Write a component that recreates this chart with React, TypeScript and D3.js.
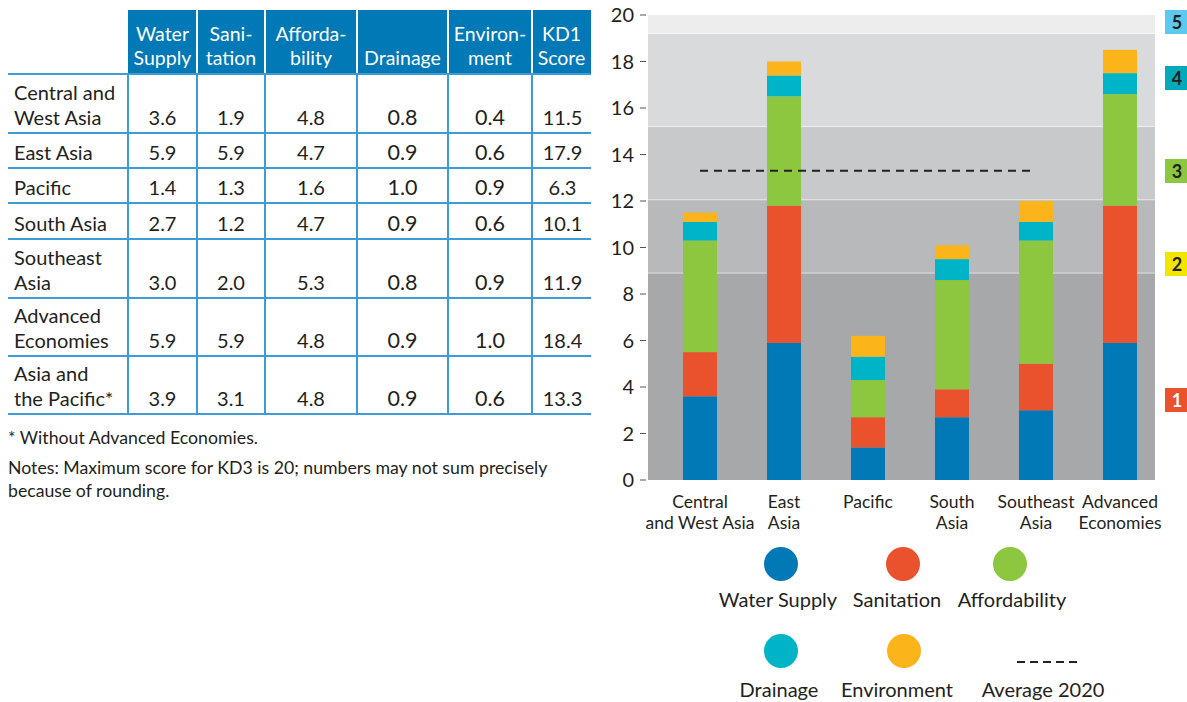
import React from "react";
import * as d3 from "d3";

const tableRows = [
  ["Central and", "West Asia"],
  ["East Asia"],
  ["Pacific"],
  ["South Asia"],
  ["Southeast", "Asia"],
  ["Advanced", "Economies"],
  ["Asia and", "the Pacific*"],
];
const regions = ["Central and West Asia", "East Asia", "Pacific", "South Asia", "Southeast Asia", "Advanced Economies"];
const regionLabelLines = [
  ["Central", "and West Asia"],
  ["East", "Asia"],
  ["Pacific"],
  ["South", "Asia"],
  ["Southeast", "Asia"],
  ["Advanced", "Economies"],
];
const waterSupply = [3.6, 5.9, 1.4, 2.7, 3.0, 5.9, 3.9];
const sanitation = [1.9, 5.9, 1.3, 1.2, 2.0, 5.9, 3.1];
const affordability = [4.8, 4.7, 1.6, 4.7, 5.3, 4.8, 4.8];
const drainage = [0.8, 0.9, 1.0, 0.9, 0.8, 0.9, 0.9];
const environment = [0.4, 0.6, 0.9, 0.6, 0.9, 1.0, 0.6];
const kd1Score = [11.5, 17.9, 6.3, 10.1, 11.9, 18.4, 13.3];
const headerLabels = [
  ["Water", "Supply"],
  ["Sani-", "tation"],
  ["Afforda-", "bility"],
  ["Drainage"],
  ["Environ-", "ment"],
  ["KD1", "Score"],
];
const seriesNames = ["Water Supply", "Sanitation", "Affordability", "Drainage", "Environment"];
const seriesColors = ["#0079b6", "#e9522c", "#8dc63f", "#00b4c8", "#fbb41a"];
const average2020 = 13.3;
const bandLimits = [0, 8.9, 12.05, 15.2, 19.2, 20];
const bandColors = ["#a7a8aa", "#b8b9bb", "#c8c9cb", "#d9dadc", "#ededed"];
const levelLabels = ["1", "2", "3", "4", "5"];
const levelColors = ["#e9522c", "#f2e600", "#8dc63f", "#00aab9", "#5ccaef"];
const levelBoxTop = [388, 252, 159, 66, 10];
const yTicks = [0, 2, 4, 6, 8, 10, 12, 14, 16, 18, 20];
const footnote = "* Without Advanced Economies.";
const notes = ["Notes: Maximum score for KD3 is 20; numbers may not sum precisely", "because of rounding."];

const FONT = "Lato, 'Open Sans', sans-serif";
const TXT = "#231f20";

export default function App() {
  // table geometry
  const colX = [128, 197, 265, 357, 448, 532, 591];
  const rowY = [74, 133, 168, 203, 239, 298, 356, 414];
  const lineBlue = "#3d9bd6";
  const headBlue = "#0079b6";
  const tableValues = [waterSupply, sanitation, affordability, drainage, environment, kd1Score];

  // chart geometry
  const y = d3.scaleLinear().domain([0, 20]).range([480, 15]);
  const x = d3.scaleBand().domain(regions).range([658, 1162]).paddingInner(0.595).paddingOuter(0.2975);
  const plotL = 648, plotR = 1155;
  const chartData = regions.map((r, i) => ({
    region: r,
    s0: waterSupply[i], s1: sanitation[i], s2: affordability[i], s3: drainage[i], s4: environment[i],
  }));
  const stack = d3.stack<any>().keys(["s0", "s1", "s2", "s3", "s4"]);
  const stacked = stack(chartData);
  const cx = (r: string) => (x(r) as number) + x.bandwidth() / 2;

  const legendRow1 = [
    { i: 0, cx: 781, lx: 778 },
    { i: 1, cx: 903, lx: 897 },
    { i: 2, cx: 1010, lx: 1012 },
  ];
  const legendRow2 = [
    { i: 3, cx: 781, lx: 779 },
    { i: 4, cx: 904, lx: 897 },
  ];

  return (
    <svg width={1187} height={702} style={{ display: "block", position: "absolute", left: 0, top: 0 }} fontFamily={FONT}>
      <rect x={0} y={0} width={1187} height={702} fill="#ffffff" />
      {/* ===== TABLE ===== */}
      <rect x={colX[0]} y={10} width={colX[6] - colX[0]} height={rowY[0] - 10} fill={headBlue} />
      {colX.slice(1, 6).map((cxv, i) => (
        <line key={"hs" + i} x1={cxv} x2={cxv} y1={10} y2={rowY[0]} stroke="#ffffff" strokeWidth={2} />
      ))}
      {headerLabels.map((lines, c) => {
        const mid = (colX[c] + colX[c + 1]) / 2;
        return (
          <text key={"h" + c} x={mid} textAnchor="middle" fill="#ffffff" fontSize={19.5}>
            {lines.length === 2 ? (
              <>
                <tspan x={mid} y={41}>{lines[0]}</tspan>
                <tspan x={mid} y={65}>{lines[1]}</tspan>
              </>
            ) : (
              <tspan x={mid} y={65}>{lines[0]}</tspan>
            )}
          </text>
        );
      })}
      {rowY.map((ry, i) => (
        <line key={"rl" + i} x1={8} x2={colX[6]} y1={ry} y2={ry} stroke={lineBlue} strokeWidth={2} />
      ))}
      {colX.slice(0, 6).map((cxv, i) => (
        <line key={"vl" + i} x1={cxv} x2={cxv} y1={rowY[0]} y2={rowY[7]} stroke={lineBlue} strokeWidth={2} />
      ))}
      {tableRows.map((lines, r) => {
        const bottom = rowY[r + 1];
        const baseY = bottom - 8;
        return (
          <g key={"row" + r}>
            {lines.map((ln, k) => (
              <text key={k} x={14} y={baseY - (lines.length - 1 - k) * 25} fontSize={20} fill={TXT}>{ln}</text>
            ))}
            {tableValues.map((vals, c) => (
              <text
                key={"v" + c}
                x={(colX[c] + colX[c + 1]) / 2 + (c === 5 ? 1 : 0)}
                y={baseY}
                textAnchor="middle"
                fontSize={c === 3 || c === 4 ? 21.5 : 20}
                fill={TXT}
              >
                {vals[r].toFixed(1)}
              </text>
            ))}
          </g>
        );
      })}
      <text x={8} y={444} fontSize={17.7} fill={TXT}>{footnote}</text>
      {notes.map((n, i) => (
        <text key={"n" + i} x={8} y={474 + i * 23} fontSize={17.7} fill={TXT}>{n}</text>
      ))}

      {/* ===== CHART ===== */}
      {bandColors.map((c, i) => (
        <rect key={"b" + i} x={plotL} width={plotR - plotL} y={y(bandLimits[i + 1])} height={y(bandLimits[i]) - y(bandLimits[i + 1])} fill={c} />
      ))}
      {bandLimits.slice(1, 5).map((v, i) => (
        <line key={"bl" + i} x1={plotL} x2={plotR} y1={y(v)} y2={y(v)} stroke="#ffffff" strokeOpacity={0.55} strokeWidth={1} />
      ))}
      {yTicks.map((t) => (
        <g key={"yt" + t}>
          <line x1={640} x2={646} y1={y(t)} y2={y(t)} stroke="#555" strokeWidth={1} />
          <text x={634} y={y(t) + 7} textAnchor="end" fontSize={20} fill={TXT}>{t}</text>
        </g>
      ))}
      {stacked.map((layer, si) => (
        <g key={"s" + si}>
          {layer.map((d, j) => (
            <rect
              key={j}
              x={x(regions[j])}
              width={x.bandwidth()}
              y={y(d[1])}
              height={y(d[0]) - y(d[1])}
              fill={seriesColors[si]}
            />
          ))}
        </g>
      ))}
      <line
        x1={cx(regions[0])}
        x2={cx(regions[4])}
        y1={y(average2020)}
        y2={y(average2020)}
        stroke="#222"
        strokeWidth={2}
        strokeDasharray="8,6"
      />
      {regionLabelLines.map((lines, i) => (
        <text key={"xl" + i} textAnchor="middle" fontSize={17.5} fill={TXT}>
          {lines.map((ln, k) => (
            <tspan key={k} x={cx(regions[i])} y={508 + k * 21}>{ln}</tspan>
          ))}
        </text>
      ))}
      {levelLabels.map((l, i) => (
        <g key={"lv" + i}>
          <rect x={1165} y={levelBoxTop[i]} width={30} height={24} fill={levelColors[i]} />
          <text x={1177} y={levelBoxTop[i] + 19} textAnchor="middle" fontSize={18} fontWeight={700} fill={i === 0 ? "#ffffff" : "#231f20"}>{l}</text>
        </g>
      ))}

      {/* ===== LEGEND ===== */}
      {legendRow1.map((l) => (
        <g key={"lg1" + l.i}>
          <circle cx={l.cx} cy={564} r={17} fill={seriesColors[l.i]} />
          <text x={l.lx} y={607} textAnchor="middle" fontSize={20} fill={TXT}>{seriesNames[l.i]}</text>
        </g>
      ))}
      {legendRow2.map((l) => (
        <g key={"lg2" + l.i}>
          <circle cx={l.cx} cy={651} r={17} fill={seriesColors[l.i]} />
          <text x={l.lx} y={697} textAnchor="middle" fontSize={20} fill={TXT}>{seriesNames[l.i]}</text>
        </g>
      ))}
      <line x1={1017} x2={1077} y1={662} y2={662} stroke="#222" strokeWidth={2} strokeDasharray="8,5" />
      <text x={1043} y={697} textAnchor="middle" fontSize={20} fill={TXT}>Average 2020</text>
    </svg>
  );
}
